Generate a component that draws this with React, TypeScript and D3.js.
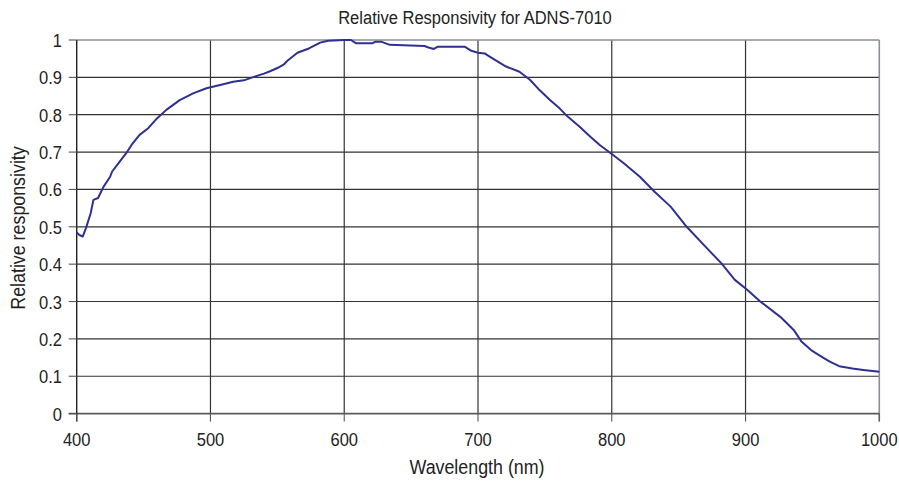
import React from "react";
import * as d3 from "d3";

const wavelengths = [
  400, 402, 404.5, 407, 410.5, 412.5, 416, 420, 425, 426.5, 432, 437, 441, 447, 453.5, 460, 467, 477, 487, 497,
  508, 517, 525, 533, 540, 545, 550, 555, 558, 565, 574, 582, 588, 600, 605, 609, 621, 623, 628, 634,
  660, 663, 667, 670, 690, 695, 700, 705, 709, 713, 721, 731, 739, 746, 754, 761, 767, 776, 784, 791,
  800, 809, 821, 832, 844, 856, 870, 882, 892, 901, 911, 926, 936, 942, 949, 957, 963, 970, 980, 988, 995, 1000,
];
const responsivity = [
  0.485, 0.478, 0.474, 0.497, 0.537, 0.572, 0.577, 0.607, 0.634, 0.648, 0.674, 0.697, 0.719, 0.746, 0.764, 0.79, 0.813, 0.839, 0.857, 0.871,
  0.88, 0.888, 0.892, 0.902, 0.91, 0.917, 0.925, 0.935, 0.946, 0.966, 0.978, 0.993, 0.998, 1.0, 1.0, 0.991, 0.991, 0.995, 0.995, 0.987,
  0.984, 0.98, 0.976, 0.982, 0.982, 0.971, 0.966, 0.964, 0.955, 0.946, 0.929, 0.915, 0.893, 0.866, 0.839, 0.817, 0.795, 0.768, 0.741, 0.719,
  0.695, 0.67, 0.634, 0.594, 0.554, 0.5, 0.447, 0.402, 0.358, 0.332, 0.3, 0.259, 0.224, 0.192, 0.17, 0.152, 0.139, 0.127, 0.121, 0.117, 0.114, 0.112,
];
const xTicks = [400, 500, 600, 700, 800, 900, 1000];
const yTicks = [0, 0.1, 0.2, 0.3, 0.4, 0.5, 0.6, 0.7, 0.8, 0.9, 1];
const yTickLabels = ["0", "0.1", "0.2", "0.3", "0.4", "0.5", "0.6", "0.7", "0.8", "0.9", "1"];
const title = "Relative Responsivity for ADNS-7010";
const xTitle = "Wavelength (nm)";
const yTitle = "Relative responsivity";

const W = 899;
const H = 486;
const left = 76.7;
const right = 879.3;
const top = 40;
const bottom = 413.6;
const FONT = "'Liberation Sans', Arial, sans-serif";
const SX = 0.87;

export default function App() {
  const x = d3.scaleLinear().domain([400, 1000]).range([left, right]);
  const y = d3.scaleLinear().domain([0, 1]).range([bottom, top]);
  const pts: [number, number][] = wavelengths.map((w, i) => [w, responsivity[i]]);
  const line = d3
    .line<[number, number]>()
    .x((d) => x(d[0]))
    .y((d) => y(d[1]));

  return (
    <svg
      width={W}
      height={H}
      style={{ position: "absolute", left: 0, top: 0, background: "#fff" }}
    >
      <rect x={0} y={0} width={W} height={H} fill="#fff" />
      {yTicks.slice(1, -1).map((t) => (
        <line key={"h" + t} x1={left} x2={right} y1={y(t)} y2={y(t)} stroke="#333" strokeWidth={1.2} />
      ))}
      {xTicks.slice(1, -1).map((t) => (
        <line key={"v" + t} x1={x(t)} x2={x(t)} y1={top} y2={bottom} stroke="#333" strokeWidth={1.2} />
      ))}
      <line x1={left} x2={right} y1={top} y2={top} stroke="#8a9096" strokeWidth={1.6} />
      <line x1={right} x2={right} y1={top} y2={bottom + 8} stroke="#8a9096" strokeWidth={1.6} />
      <line x1={left - 8} x2={right} y1={bottom} y2={bottom} stroke="#5a5a5a" strokeWidth={1.6} />
      <line x1={left} x2={left} y1={top} y2={bottom + 8} stroke="#222" strokeWidth={1.4} />
      {yTicks.map((t) => (
        <line key={"yt" + t} x1={left - 8} x2={left} y1={y(t)} y2={y(t)} stroke="#555" strokeWidth={1.1} />
      ))}
      {xTicks.map((t) => (
        <line key={"xt" + t} x1={x(t)} x2={x(t)} y1={bottom} y2={bottom + 8} stroke="#555" strokeWidth={1.1} />
      ))}
      <path d={line(pts) || ""} fill="none" stroke="#2e3192" strokeWidth={2} strokeLinejoin="round" />
      {yTicks.map((t, i) => (
        <text
          key={"yl" + t}
          transform={`translate(62,${y(t) + 7}) scale(${SX},1)`}
          textAnchor="end"
          fontFamily={FONT}
          fontSize={19}
          fill="#222"
        >
          {yTickLabels[i]}
        </text>
      ))}
      {xTicks.map((t) => (
        <text
          key={"xl" + t}
          transform={`translate(${x(t)},${bottom + 32}) scale(${SX},1)`}
          textAnchor="middle"
          fontFamily={FONT}
          fontSize={19}
          fill="#222"
        >
          {t}
        </text>
      ))}
      <text
        transform={`translate(475,24) scale(${SX},1)`}
        textAnchor="middle"
        fontFamily={FONT}
        fontSize={19}
        fill="#222"
      >
        {title}
      </text>
      <text
        transform={`translate(477,474) scale(${SX},1)`}
        textAnchor="middle"
        fontFamily={FONT}
        fontSize={20.5}
        fill="#222"
      >
        {xTitle}
      </text>
      <text
        transform={`translate(25,228) rotate(-90) scale(${SX},1)`}
        textAnchor="middle"
        fontFamily={FONT}
        fontSize={20.5}
        fill="#222"
      >
        {yTitle}
      </text>
    </svg>
  );
}
